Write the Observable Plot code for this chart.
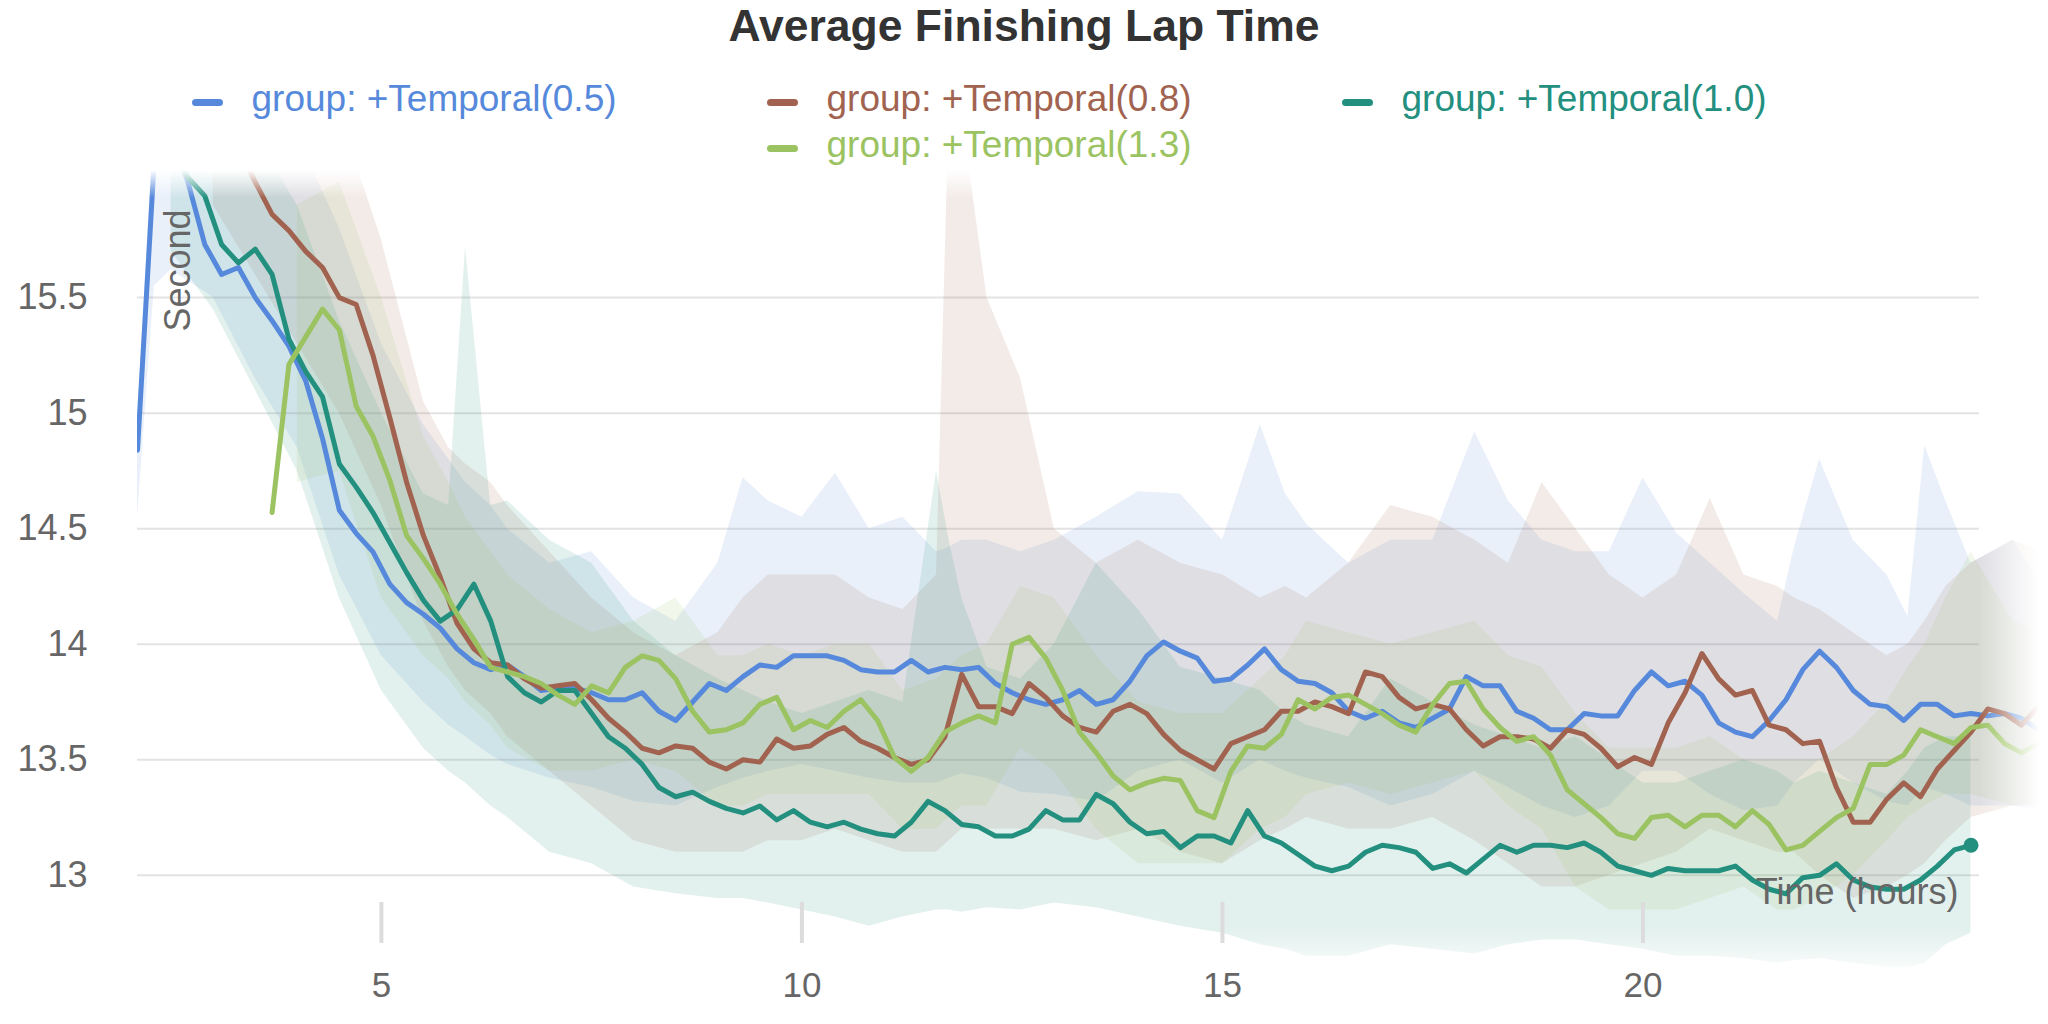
<!DOCTYPE html>
<html>
<head>
<meta charset="utf-8">
<script src="https://cdn.jsdelivr.net/npm/d3@7"></script>
<script src="https://cdn.jsdelivr.net/npm/@observablehq/plot@0.6"></script>
<style>
html,body{margin:0;padding:0;background:#fff;overflow:hidden;}
body{width:2048px;height:1024px;position:relative;font-family:"Liberation Sans",Arial,sans-serif;}
#title{position:absolute;top:4px;left:0;width:2048px;text-align:center;font-size:44.5px;line-height:44px;font-weight:bold;color:#333;}
#legend{position:absolute;top:76px;left:0;width:2048px;display:flex;flex-wrap:wrap;justify-content:center;}
.item{width:575px;height:46px;display:flex;align-items:center;box-sizing:border-box;padding-left:30px;font-size:37px;line-height:46px;white-space:nowrap;}
.sw{width:31px;height:7px;border-radius:4px;margin-right:29px;position:relative;top:3px;flex:none;}
#chart{position:absolute;top:160px;left:0;}
</style>
</head>
<body>
<svg width="0" height="0" style="position:absolute">
  <defs>
    <linearGradient id="fadeRight" x1="0" x2="1" y1="0" y2="0">
      <stop offset="0" stop-color="#fff" stop-opacity="0"/>
      <stop offset="0.95" stop-color="#fff" stop-opacity="1"/>
    </linearGradient>
    <linearGradient id="fadeTop" x1="0" x2="0" y1="0" y2="1">
      <stop offset="0" stop-color="#fff" stop-opacity="1"/>
      <stop offset="1" stop-color="#fff" stop-opacity="0"/>
    </linearGradient>
    <linearGradient id="fadeBottom" x1="0" x2="0" y1="0" y2="1">
      <stop offset="0" stop-color="#fff" stop-opacity="0"/>
      <stop offset="1" stop-color="#fff" stop-opacity="1"/>
    </linearGradient>
  </defs>
</svg>
<div id="title">Average Finishing Lap Time</div>
<div id="legend"></div>
<div id="chart"></div>
<script>
// ---------- data ----------
const seriesNames = ["group: +Temporal(0.5)", "group: +Temporal(0.8)", "group: +Temporal(1.0)", "group: +Temporal(1.3)"];
const seriesColors = ["#5689db", "#a1634f", "#23907f", "#9bc361"];

const xTicks = [5, 10, 15, 20];
const yTicks = [13, 13.5, 14, 14.5, 15, 15.5];
const xMin = 2.1, xGridEnd = 24.0, xMax = 24.75;
const yMin = 12.545, yMax = 16.05;

const hours = [
2.1,2.3,2.5,2.7,2.9,3.1,3.3,3.5,3.7,3.9,
4.1,4.3,4.5,4.7,4.9,5.1,5.3,5.5,5.7,5.9,
6.1,6.3,6.5,6.7,6.9,7.1,7.3,7.5,7.7,7.9,
8.1,8.3,8.5,8.7,8.9,9.1,9.3,9.5,9.7,9.9,
10.1,10.3,10.5,10.7,10.9,11.1,11.3,11.5,11.7,11.9,
12.1,12.3,12.5,12.7,12.9,13.1,13.3,13.5,13.7,13.9,
14.1,14.3,14.5,14.7,14.9,15.1,15.3,15.5,15.7,15.9,
16.1,16.3,16.5,16.7,16.9,17.1,17.3,17.5,17.7,17.9,
18.1,18.3,18.5,18.7,18.9,19.1,19.3,19.5,19.7,19.9,
20.1,20.3,20.5,20.7,20.9,21.1,21.3,21.5,21.7,21.9,
22.1,22.3,22.5,22.7,22.9,23.1,23.3,23.5,23.7,23.9,
24.1,24.3,24.5,24.7];

const lapBlue = [
14.84,16.1,16.2,16.0,15.73,15.6,15.63,15.5,15.4,15.29,
15.14,14.89,14.58,14.48,14.4,14.26,14.18,14.13,14.07,13.98,
13.92,13.89,13.91,13.86,13.80,13.81,13.81,13.79,13.76,13.76,
13.79,13.71,13.67,13.75,13.83,13.80,13.86,13.91,13.90,13.95,
13.95,13.95,13.93,13.89,13.88,13.88,13.93,13.88,13.90,13.89,
13.90,13.83,13.79,13.76,13.74,13.76,13.80,13.74,13.76,13.84,
13.95,14.01,13.97,13.94,13.84,13.85,13.91,13.98,13.89,13.84,
13.83,13.79,13.71,13.68,13.71,13.66,13.64,13.68,13.72,13.86,
13.82,13.82,13.71,13.68,13.63,13.63,13.70,13.69,13.69,13.80,
13.88,13.82,13.84,13.78,13.66,13.62,13.60,13.67,13.76,13.89,
13.97,13.90,13.80,13.74,13.73,13.67,13.74,13.74,13.69,13.70,
13.69,13.70,13.68,13.63];

const lapBrown = [
null,null,null,null,null,null,16.15,16.0,15.86,15.79,
15.70,15.63,15.50,15.47,15.25,14.98,14.70,14.47,14.29,14.09,
13.98,13.92,13.91,13.85,13.81,13.82,13.83,13.76,13.68,13.62,
13.55,13.53,13.56,13.55,13.49,13.46,13.50,13.49,13.59,13.55,
13.56,13.61,13.64,13.58,13.55,13.51,13.48,13.50,13.60,13.87,
13.73,13.73,13.70,13.83,13.77,13.69,13.64,13.62,13.71,13.74,
13.70,13.61,13.54,13.50,13.46,13.57,13.60,13.63,13.71,13.71,
13.75,13.73,13.70,13.88,13.86,13.77,13.72,13.74,13.72,13.63,
13.56,13.60,13.60,13.59,13.55,13.63,13.61,13.55,13.47,13.51,
13.48,13.66,13.79,13.96,13.85,13.78,13.80,13.65,13.63,13.57,
13.58,13.38,13.23,13.23,13.33,13.40,13.34,13.46,13.54,13.62,
13.72,13.70,13.65,13.73];

const lapTeal = [
null,null,16.15,16.02,15.94,15.73,15.65,15.71,15.6,15.32,
15.18,15.07,14.78,14.68,14.57,14.44,14.31,14.19,14.10,14.15,
14.26,14.10,13.86,13.79,13.75,13.80,13.80,13.70,13.60,13.55,
13.48,13.38,13.34,13.36,13.32,13.29,13.27,13.30,13.24,13.28,
13.23,13.21,13.23,13.20,13.18,13.17,13.23,13.32,13.28,13.22,
13.21,13.17,13.17,13.20,13.28,13.24,13.24,13.35,13.31,13.23,
13.18,13.19,13.12,13.17,13.17,13.14,13.28,13.17,13.14,13.09,
13.04,13.02,13.04,13.10,13.13,13.12,13.10,13.03,13.05,13.01,
13.07,13.13,13.10,13.13,13.13,13.12,13.14,13.10,13.04,13.02,
13.00,13.03,13.02,13.02,13.02,13.04,12.98,12.94,12.92,12.99,
13.00,13.05,12.98,12.95,12.94,12.94,12.98,13.04,13.11,13.13,
null,null,null,null];

const lapGreen = [
null,null,null,null,null,null,null,null,14.57,15.21,
15.33,15.45,15.36,15.03,14.90,14.71,14.47,14.37,14.26,14.13,
14.02,13.90,13.88,13.86,13.83,13.78,13.74,13.82,13.79,13.90,
13.95,13.93,13.85,13.71,13.62,13.63,13.66,13.74,13.77,13.63,
13.67,13.64,13.71,13.76,13.67,13.51,13.45,13.51,13.62,13.66,
13.69,13.66,14.00,14.03,13.94,13.80,13.62,13.53,13.43,13.37,
13.40,13.42,13.41,13.28,13.25,13.45,13.56,13.55,13.61,13.76,
13.72,13.77,13.78,13.74,13.70,13.65,13.62,13.74,13.83,13.84,
13.72,13.64,13.58,13.60,13.52,13.37,13.31,13.25,13.18,13.16,
13.25,13.26,13.21,13.26,13.26,13.21,13.28,13.22,13.11,13.13,
13.19,13.25,13.29,13.48,13.48,13.52,13.63,13.60,13.57,13.64,
13.65,13.57,13.53,13.57];

// spread bands (min / max over runs)
const bandHours = [2.1,2.3,2.5,3,3.5,4,4.5,5,5.5,5.8,
6,6.3,6.5,7,7.5,8,8.5,9,9.3,9.6,
10,10.4,10.8,11.2,11.6,11.75,11.9,12.2,12.6,13,
13.5,14,14.5,15,15.45,15.75,16,16.5,17,17.5,
18,18.4,18.8,19.2,19.6,20,20.4,20.8,21.2,21.6,
21.8,22.1,22.5,22.9,23.15,23.35,23.6,23.9,24.4,24.75];

const bandBlueHi = [14.95,16.3,16.3,16.3,16.3,16.2,15.8,15.3,14.95,14.8,
14.7,14.6,14.5,14.35,14.4,14.2,14.1,14.35,14.72,14.62,
14.55,14.74,14.5,14.55,14.4,14.42,14.45,14.45,14.4,14.45,
14.55,14.66,14.65,14.45,14.95,14.65,14.52,14.35,14.45,14.45,
14.92,14.62,14.45,14.4,14.4,14.72,14.48,14.35,14.22,14.1,
14.42,14.8,14.45,14.3,14.12,14.86,14.62,14.35,14.45,14.26];
const bandBlueLo = [14.55,15.55,15.62,15.5,15.15,14.85,14.3,13.95,13.75,13.65,
13.6,13.52,13.48,13.42,13.38,13.32,13.3,13.38,13.42,13.45,
13.48,13.45,13.42,13.4,13.4,13.42,13.44,13.42,13.36,13.35,
13.32,13.45,13.5,13.4,13.5,13.45,13.42,13.38,13.3,13.35,
13.45,13.38,13.3,13.25,13.3,13.45,13.45,13.35,13.28,13.3,
13.4,13.5,13.4,13.32,13.3,13.38,13.35,13.3,13.3,13.28];

const bandBrownHi = [null,null,null,16.3,16.3,16.3,16.3,15.75,15.05,14.85,
14.78,14.7,14.6,14.4,14.2,14.05,13.95,14.05,14.2,14.3,
14.3,14.3,14.2,14.15,14.3,16.3,16.3,15.5,15.15,14.5,
14.35,14.45,14.35,14.3,14.2,14.25,14.2,14.35,14.6,14.55,
14.45,14.35,14.7,14.5,14.3,14.2,14.3,14.63,14.3,14.25,
14.2,14.15,14.05,13.95,14.0,14.1,14.25,14.35,14.45,14.4];
const bandBrownLo = [null,null,null,15.9,15.6,15.3,15.0,14.6,14.1,13.9,
13.8,13.7,13.6,13.45,13.3,13.15,13.1,13.1,13.1,13.15,
13.15,13.2,13.15,13.1,13.1,13.15,13.2,13.2,13.2,13.2,
13.15,13.2,13.1,13.05,13.15,13.2,13.25,13.2,13.2,13.25,
13.15,13.05,12.95,12.95,13.0,13.05,13.1,13.2,13.15,13.1,
13.1,13.0,12.9,12.95,13.0,13.05,13.15,13.25,13.3,13.3];

const bandTealHi = [null,null,16.3,16.3,16.2,15.9,15.4,15.0,14.65,14.6,
15.72,14.6,14.62,14.45,14.35,14.1,13.95,13.85,13.8,13.75,
13.7,13.75,13.8,13.75,14.75,14.45,14.2,13.9,13.85,14.0,
14.35,14.15,13.9,13.85,13.8,13.7,13.65,13.6,13.85,13.75,
13.65,13.6,13.55,13.6,13.5,13.4,13.4,13.45,13.5,13.45,
13.4,13.45,13.4,13.35,13.45,13.55,13.6,13.6,null,null];
const bandTealLo = [null,null,15.7,15.45,15.1,14.75,14.2,13.8,13.55,13.45,
13.4,13.3,13.25,13.1,13.05,12.95,12.92,12.9,12.9,12.88,
12.85,12.82,12.78,12.82,12.85,12.85,12.84,12.86,12.85,12.88,
12.86,12.82,12.78,12.75,12.7,12.68,12.65,12.65,12.7,12.68,
12.66,12.7,12.72,12.72,12.7,12.68,12.65,12.65,12.64,12.62,
12.63,12.64,12.62,12.6,12.6,12.62,12.7,12.75,null,null];

const bandGreenHi = [null,null,null,null,null,15.9,16.0,15.5,14.9,14.7,
14.55,14.4,14.3,14.15,14.05,14.1,14.2,13.95,13.95,14.0,
13.95,14.0,14.0,13.8,13.85,13.9,13.95,14.0,14.25,14.2,
13.95,13.75,13.7,13.7,13.85,13.95,14.1,14.05,14.0,14.05,
14.1,13.95,13.9,13.7,13.55,13.55,13.55,13.6,13.5,13.5,
13.5,13.5,13.6,13.75,13.9,14.0,14.2,14.4,14.1,14.05];
const bandGreenLo = [null,null,null,null,null,14.7,14.75,14.2,13.95,13.85,
13.75,13.65,13.55,13.45,13.45,13.5,13.45,13.3,13.3,13.35,
13.35,13.35,13.35,13.2,13.2,13.25,13.3,13.3,13.55,13.45,
13.2,13.05,13.05,13.05,13.2,13.25,13.35,13.4,13.35,13.4,
13.45,13.3,13.2,12.95,12.85,12.85,12.85,12.9,12.95,12.85,
12.85,12.9,13.0,13.15,13.25,13.3,13.35,13.35,13.3,13.3];

// ---------- tables ----------
const lapSeries = [lapBlue, lapBrown, lapTeal, lapGreen];
const bandsHi = [bandBlueHi, bandBrownHi, bandTealHi, bandGreenHi];
const bandsLo = [bandBlueLo, bandBrownLo, bandTealLo, bandGreenLo];

const lineData = seriesNames.flatMap((s, k) =>
  hours.map((h, i) => ({series: s, x: h, y: lapSeries[k][i]})).filter(d => d.y != null));
const bandData = seriesNames.flatMap((s, k) =>
  bandHours.map((h, i) => ({series: s, x: h, lo: bandsLo[k][i], hi: bandsHi[k][i]}))
    .filter(d => d.lo != null && d.hi != null));
const tealPts = lineData.filter(d => d.series === seriesNames[2]);
const tealEnd = [tealPts[tealPts.length - 1]];

// ---------- legend ----------
const legend = document.getElementById("legend");
seriesNames.forEach((s, k) => {
  const it = document.createElement("div");
  it.className = "item";
  it.style.color = seriesColors[k];
  const sw = document.createElement("span");
  sw.className = "sw";
  sw.style.background = seriesColors[k];
  it.appendChild(sw);
  it.appendChild(document.createTextNode(s));
  legend.appendChild(it);
});

// ---------- chart ----------
const gray = "#666";
const chart = Plot.plot({
  width: 2048,
  height: 864,
  marginTop: 10,
  marginBottom: 44,
  marginLeft: 137,
  marginRight: 6,
  x: {domain: [xMin, xMax]},
  y: {domain: [yMin, yMax]},
  color: {domain: seriesNames, range: seriesColors},
  style: {fontFamily: "'Liberation Sans', Arial, sans-serif", background: "transparent", overflow: "visible"},
  marks: [
    Plot.ruleY(yTicks, {x1: xMin, x2: xGridEnd, stroke: "#e3e3e3", strokeWidth: 2}),
    Plot.areaY(bandData, {x: "x", y1: "lo", y2: "hi", z: "series", fill: "series", fillOpacity: 0.13, clip: true}),
    Plot.line(lineData, {x: "x", y: "y", z: "series", stroke: "series", strokeWidth: 5, clip: true}),
    Plot.dot(tealEnd, {x: "x", y: "y", r: 7.5, fill: seriesColors[2]}),
    Plot.rect([0], {x1: xGridEnd, x2: xMax, y1: yMin, y2: yMax, fill: "url(#fadeRight)"}),
    Plot.rect([0], {x1: xMin, x2: xMax, y1: 15.93, y2: yMax, fill: "url(#fadeTop)"}),
    Plot.rect([0], {x1: xMin, x2: xMax, y1: yMin, y2: 12.76, fill: "url(#fadeBottom)"}),
    Plot.axisY({ticks: yTicks, tickSize: 0, tickPadding: 50, tickFormat: d => String(d), fontSize: 36, color: gray, label: null}),
    Plot.axisX({ticks: xTicks, tickSize: 41, dy: -78, tickFormat: () => "", stroke: "#dcdcdc", strokeWidth: 4, label: null}),
    Plot.axisX({ticks: xTicks, tickSize: 0, tickPadding: -8, fontSize: 35, color: gray, label: null}),
    Plot.text(["Second"], {text: d => d, frameAnchor: "top-left", dx: 41, dy: 100, rotate: -90, textAnchor: "middle", lineAnchor: "middle", fontSize: 36, fill: gray}),
    Plot.text(["Time (hours)"], {text: d => d, frameAnchor: "bottom-right", dx: -84, dy: -88, textAnchor: "end", lineAnchor: "middle", fontSize: 36, fill: gray})
  ]
});
document.getElementById("chart").appendChild(chart);
</script>
</body>
</html>
